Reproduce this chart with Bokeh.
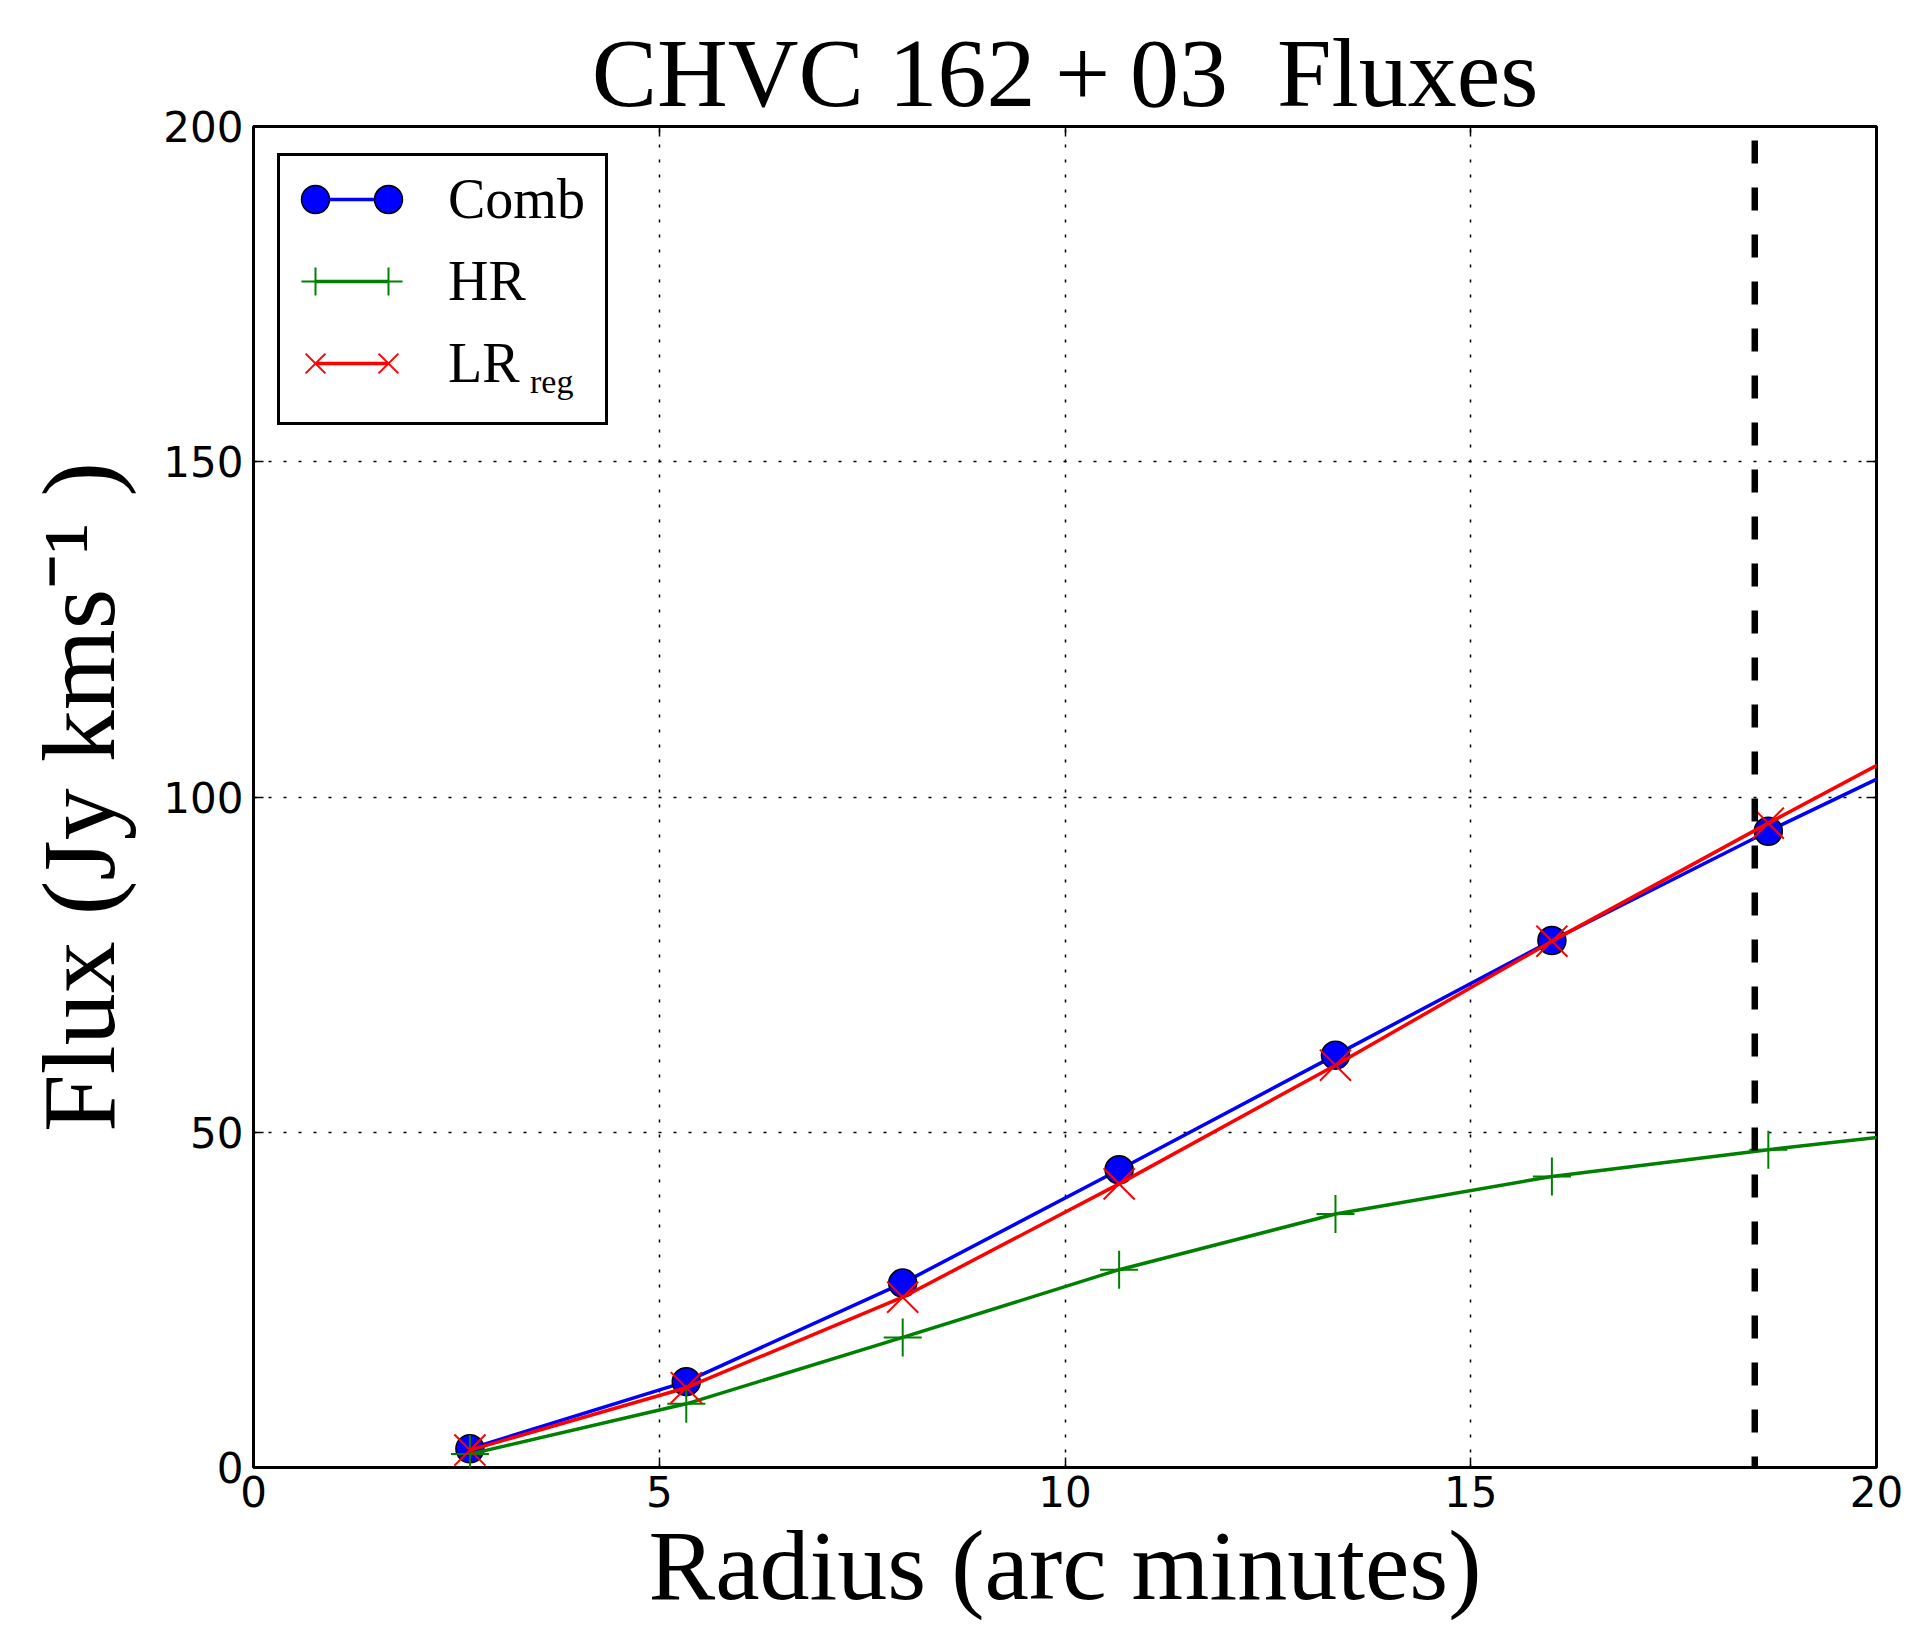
from bokeh.plotting import figure
from bokeh.models import (Span, Legend, LegendItem, LinearAxis, FixedTicker,
                          Range1d, ColumnDataSource)
from bokeh.embed import file_html
from bokeh.resources import INLINE

# ---- data ----
radius = [2.667, 5.333, 8.0, 10.667, 13.333, 16.0, 18.667, 21.333]
flux_comb = [2.8, 12.8, 27.5, 44.4, 61.5, 78.6, 94.9, 110.4]
flux_hr = [2.0, 9.5, 19.4, 29.5, 37.8, 43.4, 47.4, 51.0]
flux_lr_reg = [2.6, 11.9, 25.4, 42.3, 60.0, 78.5, 96.1, 113.3]
cutoff_radius = 18.5
x_ticks = [0, 5, 10, 15, 20]
y_ticks = [0, 50, 100, 150, 200]
series_labels = ["Comb", "HR", "LR"]
subscript_text = "reg"
title_text = "CHVC 162\u2009+\u200903\u00a0\u00a0Fluxes"
x_label = "Radius (arc minutes)"
y_label = "Flux (Jy kms\u207b\u00b9 )"

SERIF = "Liberation Serif"
SANS = "DejaVu Sans"
BLUE = "#0000ff"
GREEN = "#008000"
RED = "#ff0000"

p = figure(width=1914, height=1635,
           x_range=Range1d(0, 20), y_range=Range1d(0, 200),
           output_backend="svg", toolbar_location=None,
           min_border_left=253, min_border_right=38,
           min_border_top=126, min_border_bottom=168,
           title=title_text)

p.title.text_font = SERIF
p.title.text_font_size = "98px"
p.title.text_font_style = "normal"
p.title.align = "center"
p.title.text_color = "black"
p.title.standoff = 0

p.outline_line_color = "black"
p.outline_line_width = 3
p.outline_line_alpha = 1
p.background_fill_color = "white"
p.border_fill_color = "white"

for ax, ticks in ((p.xaxis[0], x_ticks), (p.yaxis[0], y_ticks)):
    ax.ticker = FixedTicker(ticks=ticks)
    ax.axis_line_color = None
    ax.major_tick_in = 10
    ax.major_tick_out = 0
    ax.major_tick_line_width = 1.5
    ax.major_tick_line_color = "black"
    ax.minor_tick_line_color = None
    ax.major_label_text_font = SANS
    ax.major_label_text_font_size = "42px"
    ax.major_label_text_color = "black"
    ax.axis_label_text_font = SERIF
    ax.axis_label_text_font_style = "normal"
    ax.axis_label_text_color = "black"

p.xaxis[0].axis_label = x_label
p.xaxis[0].axis_label_text_font_size = "100px"
p.xaxis[0].major_label_standoff = 8
p.xaxis[0].axis_label_standoff = 0
p.yaxis[0].axis_label = y_label
p.yaxis[0].axis_label_text_font_size = "104px"
p.yaxis[0].major_label_standoff = 10
p.yaxis[0].axis_label_standoff = 24

# mirrored ticks on top and right
for loc, ticks in (("above", x_ticks), ("right", y_ticks)):
    ax = LinearAxis(ticker=FixedTicker(ticks=ticks))
    ax.axis_line_color = None
    ax.major_tick_in = 10
    ax.major_tick_out = 0
    ax.major_tick_line_width = 1.5
    ax.major_tick_line_color = "black"
    ax.minor_tick_line_color = None
    ax.major_label_text_alpha = 0
    ax.major_label_text_font_size = "1px"
    ax.major_label_standoff = 0
    p.add_layout(ax, loc)

for g in (p.xgrid[0], p.ygrid[0]):
    g.grid_line_color = "black"
    g.grid_line_width = 1.5
    g.grid_line_dash = "3 12"

# ---- series ----
l1 = p.line(radius, flux_comb, line_color=BLUE, line_width=3.5)
s1 = p.scatter(radius, flux_comb, marker="circle", size=28,
               fill_color=BLUE, line_color="black", line_width=1.5)
l2 = p.line(radius, flux_hr, line_color=GREEN, line_width=3.5)
s2 = p.scatter(radius, flux_hr, marker="cross", size=38,
               line_color=GREEN, line_width=2)
l3 = p.line(radius, flux_lr_reg, line_color=RED, line_width=3.5)
s3 = p.scatter(radius, flux_lr_reg, marker="x", size=44,
               line_color=RED, line_width=2)

p.add_layout(Span(location=cutoff_radius, dimension="height",
                  line_color="black", line_width=6.5, line_dash="23 24",
                  line_dash_offset=33))

# ---- legend ----
empty = ColumnDataSource(data=dict(x=[], y=[]))
ghost = p.line("x", "y", source=empty, line_alpha=0)


def frameless(items, loc):
    lg = Legend(items=items, location=loc)
    lg.border_line_color = None
    lg.background_fill_alpha = 0
    lg.padding = 0
    lg.margin = 0
    return lg


# 1) the white box with black border
box = frameless([LegendItem(label=" ", renderers=[ghost])], (24, 1042))
box.border_line_color = "black"
box.border_line_width = 3
box.border_line_alpha = 1
box.background_fill_color = "white"
box.background_fill_alpha = 1
box.label_text_font_size = "1px"
box.glyph_width = 0
box.glyph_height = 1
box.label_standoff = 0
box.label_width = 325
box.label_height = 266
p.add_layout(box)

ROW_H = 70
ROW_GAP = 12
ROWS_Y = 1069

# 2) lines + labels
main = frameless([LegendItem(label=series_labels[0], renderers=[l1]),
                  LegendItem(label=series_labels[1], renderers=[l2]),
                  LegendItem(label=series_labels[2], renderers=[l3])],
                 (62, ROWS_Y))
main.label_text_font = SERIF
main.label_text_font_size = "56px"
main.label_text_color = "black"
main.glyph_width = 73
main.glyph_height = ROW_H
main.label_height = ROW_H
main.spacing = ROW_GAP
main.label_standoff = 60
p.add_layout(main)

# 3) markers at both ends of each legend line
for gx in (27, 100):
    mk = frameless([LegendItem(label=" ", renderers=[s1]),
                    LegendItem(label=" ", renderers=[s2]),
                    LegendItem(label=" ", renderers=[s3])],
                   (gx, ROWS_Y))
    mk.label_text_font_size = "1px"
    mk.glyph_width = ROW_H
    mk.glyph_height = ROW_H
    mk.label_height = ROW_H
    mk.label_width = 0
    mk.label_standoff = 0
    mk.spacing = ROW_GAP
    p.add_layout(mk)

# 4) subscript "reg" of the third label
sub = frameless([LegendItem(label=subscript_text, renderers=[ghost])],
                (277, 1066))
sub.label_text_font = SERIF
sub.label_text_font_size = "34px"
sub.label_text_color = "black"
sub.glyph_width = 0
sub.glyph_height = 1
sub.label_height = 1
sub.label_width = 1
sub.label_standoff = 0
sub.spacing = 0
p.add_layout(sub)

open("out.html", "w").write(file_html(p, INLINE))
